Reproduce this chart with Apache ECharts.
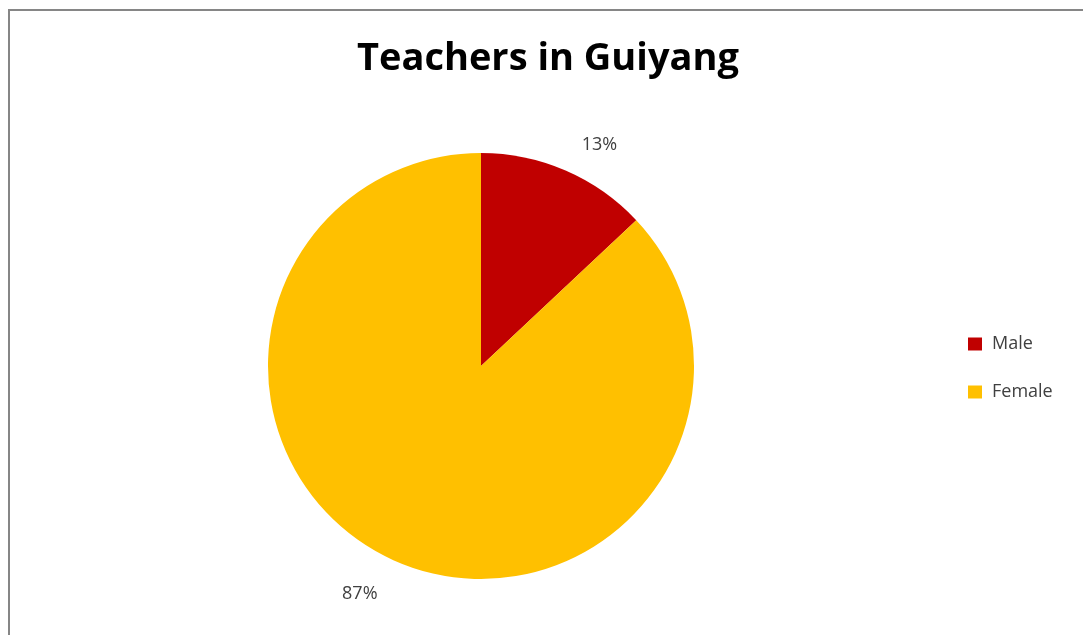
<!DOCTYPE html>
<html><head><meta charset="utf-8">
<script src="https://cdn.jsdelivr.net/npm/echarts@6/dist/echarts.min.js"></script>
<style>html,body{margin:0;padding:0;background:#fff}#c{width:1083px;height:635px}</style>
</head><body><div id="c"></div>
<script>
const categories = ['Male', 'Female'];
const values = [13, 87];
const colors = ['#C00000', '#FFC000'];
const labelOffsets = [28, 35];
const titleText = 'Teachers in Guiyang';

const chart = echarts.init(document.getElementById('c'), null, {renderer: 'canvas'});
chart.setOption({
  backgroundColor: '#ffffff',
  animation: false,
  graphic: [{
    type: 'rect', shape: {x: 9, y: 10, width: 1200, height: 800},
    style: {fill: 'none', stroke: '#868686', lineWidth: 2}, silent: true, z: -1
  }],
  title: {
    text: titleText, left: 357, top: 40, padding: 0,
    textStyle: {fontFamily: 'Open Sans', fontWeight: 'bold', fontSize: 38, color: '#000'}
  },
  legend: {
    orient: 'vertical', left: 963, top: 330, itemWidth: 14, itemHeight: 13, itemGap: 30,
    icon: 'rect', data: categories,
    textStyle: {fontFamily: 'Open Sans', fontSize: 18, color: '#404040', padding: [0,0,0,5]}
  },
  series: [{
    type: 'pie', center: [481, 366], radius: 213, startAngle: 90, clockwise: true,
    data: categories.map((c, i) => ({
      name: c, value: values[i], itemStyle: {color: colors[i]},
      labelLine: {show: false, length: labelOffsets[i], length2: 0}
    })),
    label: {
      show: true, position: 'outside', formatter: p => Math.round(p.percent) + '%',
      fontFamily: 'Open Sans', fontSize: 18, color: '#404040'
    },
    labelLine: {show: false, length: 28, length2: 0},
    emphasis: {disabled: true}
  }]
});
</script></body></html>
